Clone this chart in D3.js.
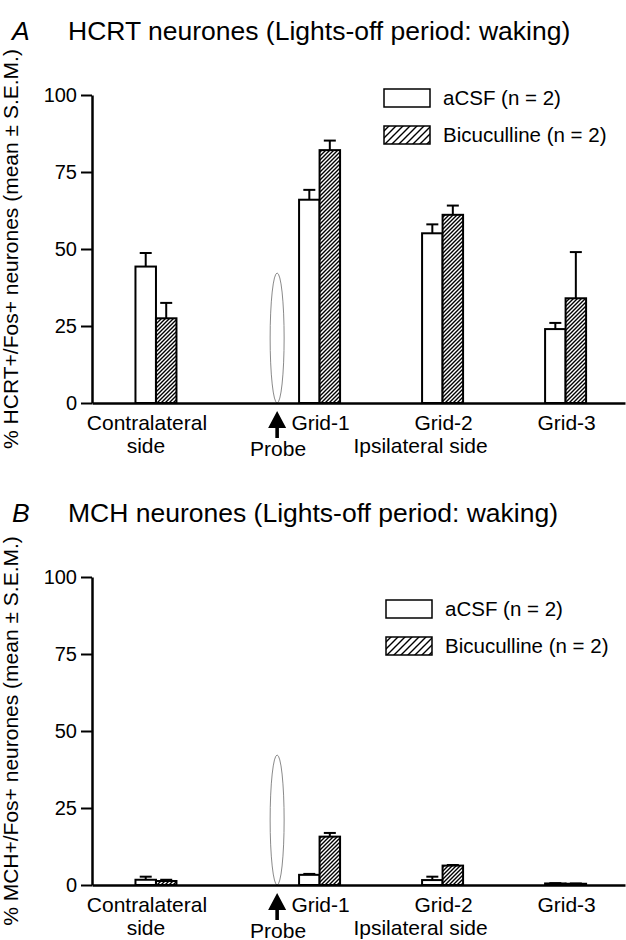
<!DOCTYPE html>
<html>
<head>
<meta charset="utf-8">
<script src="https://cdn.jsdelivr.net/npm/d3@7"></script>
<style>
	body { margin: 0; background: #fff; }
	svg text { font-family: "Liberation Sans", Arial, sans-serif; fill: #000; }
</style>
</head>
<body>
<div id="chart"></div>
<script>
// Categories and positions along the x axis (probe sits between contralateral and grid-1)
const groups = ["Contralateral", "Grid-1", "Grid-2", "Grid-3"];
const groupPos = [0, 1.33, 2.33, 3.33];
const probePos = 0.985;
const yTicks = [0, 25, 50, 75, 100];

// Panel A: HCRT neurones
const hcrtAcsf = [44.3, 66.0, 55.1, 24.0];
const hcrtAcsfSem = [4.4, 3.2, 2.9, 2.0];
const hcrtBic = [27.5, 82.1, 61.1, 34.0];
const hcrtBicSem = [5.0, 3.1, 3.0, 15.0];

// Panel B: MCH neurones
const mchAcsf = [1.7, 3.3, 1.6, 0.5];
const mchAcsfSem = [1.0, 0.3, 1.1, 0.1];
const mchBic = [1.3, 15.7, 6.3, 0.4];
const mchBicSem = [0.4, 1.2, 0.2, 0.1];

const W = 626, H = 940;
const svg = d3.select("#chart").append("svg").attr("width", W).attr("height", H);

// Hatch patterns (bars and legend swatch)
const defs = svg.append("defs");
function hatch(id, s) {
	const p = defs.append("pattern")
		.attr("id", id)
		.attr("patternUnits", "userSpaceOnUse")
		.attr("width", s).attr("height", s);
	p.append("rect").attr("width", s).attr("height", s).attr("fill", "#fff");
	p.append("path")
		.attr("d", `M${-s / 2},${s / 2} L${s / 2},${-s / 2} M0,${s} L${s},0 M${s / 2},${s * 1.5} L${s * 1.5},${s / 2}`)
		.attr("stroke", "#000")
		.attr("stroke-width", 1.4);
}
hatch("hatchBar", 4);
hatch("hatchLegend", 7);

const xScale = d3.scaleLinear().domain([-0.52, 3.813]).range([92, 625]);
const barW = 20.5;

function drawPanel(cfg) {
	const g = svg.append("g").attr("transform", `translate(0,${cfg.dy})`);
	const y = d3.scaleLinear().domain([0, 100]).range([403, 95]);

	// Title
	g.append("text").attr("x", 12).attr("y", 40)
		.style("font-size", "26.5px").style("font-style", "italic").text(cfg.letter);
	g.append("text").attr("x", 68).attr("y", 40)
		.style("font-size", "26.5px").text(cfg.title);

	// Y label
	g.append("text")
		.attr("transform", `translate(18,${(y(0) + y(100)) / 2}) rotate(-90)`)
		.attr("text-anchor", "middle")
		.style("font-size", "21px")
		.text(cfg.ylabel);

	// Probe ellipse
	g.append("ellipse")
		.attr("cx", xScale(probePos))
		.attr("cy", y(0) - 65)
		.attr("rx", 7).attr("ry", 65)
		.attr("fill", "none")
		.attr("stroke", "#8a8a8a")
		.attr("stroke-width", 1);

	// Bars
	const rows = groups.map((k, i) => ({
		pos: groupPos[i],
		vals: [
			{ v: cfg.acsf[i], e: cfg.acsfSem[i], fill: "#fff", side: -1 },
			{ v: cfg.bic[i], e: cfg.bicSem[i], fill: "url(#hatchBar)", side: 0 },
		],
	}));
	rows.forEach((r) => {
		r.vals.forEach((b) => {
			const x0 = xScale(r.pos) + b.side * barW;
			const cx = x0 + barW / 2;
			g.append("line")
				.attr("x1", cx).attr("x2", cx)
				.attr("y1", y(b.v)).attr("y2", y(b.v + b.e))
				.attr("stroke", "#000").attr("stroke-width", 2);
			g.append("line")
				.attr("x1", cx - 6).attr("x2", cx + 6)
				.attr("y1", y(b.v + b.e)).attr("y2", y(b.v + b.e))
				.attr("stroke", "#000").attr("stroke-width", 2);
			g.append("rect")
				.attr("x", x0).attr("y", y(b.v))
				.attr("width", barW).attr("height", y(0) - y(b.v))
				.attr("fill", b.fill)
				.attr("stroke", "#000").attr("stroke-width", 2);
		});
	});

	// Axes
	const yAxis = g.append("g")
		.attr("transform", `translate(${xScale.range()[0]},0)`)
		.call(d3.axisLeft(y).tickValues(yTicks).tickSize(11).tickPadding(4).tickSizeOuter(0));
	yAxis.select(".domain").attr("stroke-width", 2.5);
	yAxis.selectAll(".tick line").attr("stroke-width", 2);
	yAxis.selectAll(".tick text").style("font-size", "20px").style("font-family", "Liberation Sans, Arial, sans-serif");

	const xAxis = g.append("g")
		.attr("transform", `translate(0,${y(0)})`)
		.call(d3.axisBottom(xScale).ticks(0).tickSizeOuter(0));
	xAxis.select(".domain").attr("stroke-width", 2.5);

	// Category labels
	const lab = (x, yy, t) => g.append("text").attr("x", x).attr("y", y(0) + yy)
		.attr("text-anchor", "middle").style("font-size", "21px").text(t);
	lab(xScale(groupPos[0]) - 9, 27, "Contralateral");
	lab(xScale(groupPos[0]) - 10, 50, "side");
	groups.slice(1).forEach((t, i) => lab(xScale(groupPos[i + 1]) + 1, 27, t));
	lab(xScale(groupPos[1]) + 101, 50, "Ipsilateral side");
	lab(xScale(probePos) + 1, 53, "Probe");

	// Probe arrow
	const px = xScale(probePos), py = y(0);
	g.append("path")
		.attr("d", `M${px},${py + 8} L${px + 9},${py + 25} L${px + 1.8},${py + 25} L${px + 1.8},${py + 35} L${px - 1.8},${py + 35} L${px - 1.8},${py + 25} L${px - 9},${py + 25} Z`)
		.attr("fill", "#000");

	// Legend
	const leg = g.append("g").attr("transform", `translate(${cfg.legX},${cfg.legY})`);
	[["aCSF (n = 2)", "#fff"], ["Bicuculline (n = 2)", "url(#hatchLegend)"]].forEach((d, i) => {
		leg.append("rect").attr("x", 0).attr("y", i * 37)
			.attr("width", 46).attr("height", 18)
			.attr("fill", d[1]).attr("stroke", "#000").attr("stroke-width", 1.5);
		leg.append("text").attr("x", 59).attr("y", i * 37 + 16)
			.style("font-size", "20.5px").text(d[0]);
	});
}

drawPanel({
	dy: 0, letter: "A",
	title: "HCRT neurones (Lights-off period: waking)",
	ylabel: "% HCRT+/Fos+ neurones (mean ± S.E.M.)",
	acsf: hcrtAcsf, acsfSem: hcrtAcsfSem, bic: hcrtBic, bicSem: hcrtBicSem,
	legX: 384, legY: 89,
});
drawPanel({
	dy: 482, letter: "B",
	title: "MCH neurones (Lights-off period: waking)",
	ylabel: "% MCH+/Fos+ neurones (mean ± S.E.M.)",
	acsf: mchAcsf, acsfSem: mchAcsfSem, bic: mchBic, bicSem: mchBicSem,
	legX: 386, legY: 118,
});
</script>
</body>
</html>
